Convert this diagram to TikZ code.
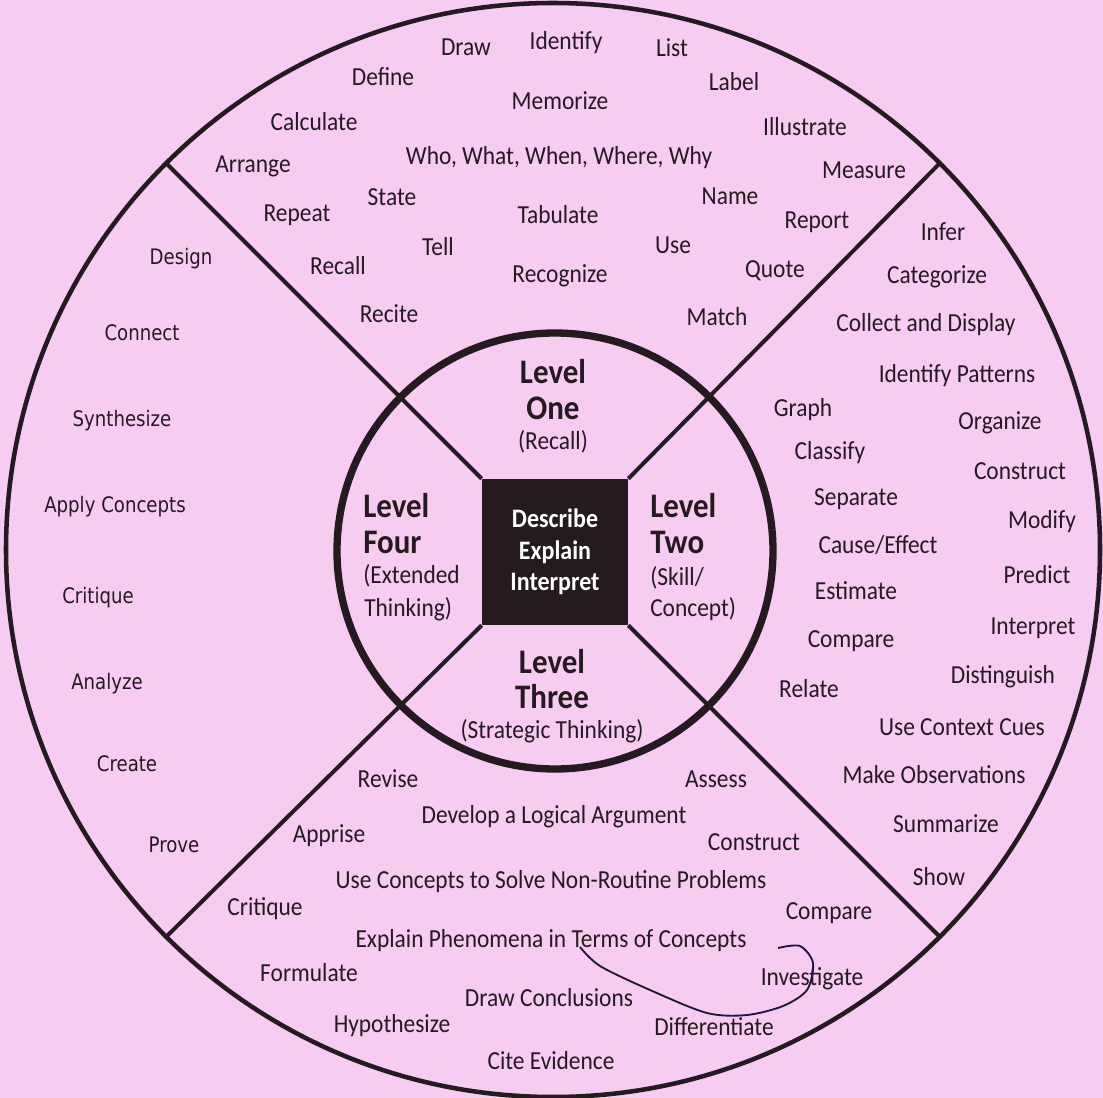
\documentclass[tikz,border=0pt]{standalone}
\usepackage{fontspec}
\setmainfont{Carlito}[FakeStretch=0.9]
\newfontfamily\farfont{DejaVu Sans}[FakeStretch=0.85]
\usetikzlibrary{math}
\definecolor{PaperPink}{RGB}{246,204,240}
\definecolor{InkDark}{RGB}{36,26,32}
\tikzset{%
  word/.style={inner sep=0pt, text=InkDark, font=\fontsize{19.5}{22}\selectfont},
  farword/.style={inner sep=0pt, text=InkDark, font=\farfont\fontsize{16}{19}\selectfont},
  lvl/.style={inner sep=0pt, text=InkDark, font=\fontsize{25.8}{28}\selectfont\bfseries},
  hubbox/.style={fill=InkDark, text=white, inner sep=0pt, minimum size=109.5pt,
    align=center, font=\fontsize{20}{23.6}\selectfont\bfseries},
  spoke/.style={draw=InkDark, line width=3pt},
  rim/.style={draw=InkDark, line width=3.4pt},
  core/.style={draw=InkDark, line width=5.5pt},
  pen/.style={draw=InkDark!85!blue, line width=1.4pt}
}

\begin{document}
\begin{tikzpicture}[x=0.75pt,y=-0.75pt]
    \tikzmath{
      \cx=553; \cy=550; % outer ring centre
      \rimR=547;
      \coreR=218; % inner ring
      \d=0.7071*\rimR;
    }
    \useasboundingbox (0,0) rectangle (1103,1098);
    \fill[PaperPink] (0,0) rectangle (1103,1098);
    % hub and spokes
    \node[hubbox] (hub) at (555,552) {Describe\\Explain\\Interpret};
    \coordinate (rimNW) at (\cx-\d,\cy-\d);
    \coordinate (rimNE) at (\cx+\d,\cy-\d);
    \coordinate (rimSE) at (\cx+\d,\cy+\d);
    \coordinate (rimSW) at (\cx-\d,\cy+\d);
    \draw[spoke] (hub.north west) -- (rimNW);
    \draw[spoke] (hub.north east) -- (rimNE);
    \draw[spoke] (hub.south east) -- (rimSE);
    \draw[spoke] (hub.south west) -- (rimSW);
    \draw[rim] (\cx,\cy) circle (\rimR);
    \draw[core] (555,551) circle (\coreR);
    % level titles
    \node[lvl] (one-a) at (553,372) {Level};
    \node[lvl] (one-b) at (553,408) {One};
    \node[word] (one-c) at (553,442) {(Recall)};
    \node[lvl,anchor=west] (two-a) at (650,506) {Level};
    \node[lvl,anchor=west] (two-b) at (650,542) {Two};
    \node[word,anchor=west] (two-c) at (650,578) {(Skill/};
    \node[word,anchor=west] (two-d) at (650,609) {Concept)};
    \node[lvl] (three-a) at (552,662) {Level};
    \node[lvl] (three-b) at (552,697) {Three};
    \node[word] (three-c) at (552,731) {(Strategic Thinking)};
    \node[lvl,anchor=west] (four-a) at (363,506) {Level};
    \node[lvl,anchor=west] (four-b) at (363,542) {Four};
    \node[word,anchor=west] (four-c) at (363,576) {(Extended};
    \node[word,anchor=west] (four-d) at (364,609) {Thinking)};
    % Level One words
    \foreach \x/\y/\txt [count=\i] in {466/47/Draw, 566/43/Identify, 672/48/List,
        383/77/Define, 734/82/Label, 560/101/Memorize, 314/122/Calculate,
        805/127/Illustrate, 253/166/Arrange, 559/158/{Who, What, When, Where, Why},
        864/170/Measure, 392/197/State, 730/196/Name, 297/215/Repeat,
        558/215/Tabulate, 817/222/Report, 438/247/Tell, 673/245/Use,
        338/266/Recall, 560/276/Recognize, 775/271/Quote, 389/314/Recite,
        717/317/Match} {
      \node[word] (w1-\i) at (\x,\y) {\txt};
    }
    % Level Two words
    \foreach \x/\y/\txt [count=\i] in {943/232/Infer, 937/277/Categorize,
        926/325/Collect and Display, 957/376/Identify Patterns, 803/410/Graph,
        1000/423/Organize, 830/453/Classify, 1020/471/Construct,
        856/499/Separate, 1042/522/Modify, 878/545/{Cause/Effect},
        1037/575/Predict, 856/591/Estimate, 1033/628/Interpret,
        851/641/Compare, 1003/677/Distinguish, 809/689/Relate,
        962/727/Use Context Cues, 934/775/Make Observations,
        946/824/Summarize, 939/877/Show} {
      \node[word] (w2-\i) at (\x,\y) {\txt};
    }
    % Level Three words
    \foreach \x/\y/\txt [count=\i] in {388/779/Revise, 716/779/Assess,
        554/817/Develop a Logical Argument, 329/836/Apprise, 754/842/Construct,
        551/882/Use Concepts to Solve Non-Routine Problems, 265/909/Critique,
        829/913/Compare, 551/941/Explain Phenomena in Terms of Concepts,
        309/973/Formulate, 812/979/Investigate, 549/998/Draw Conclusions,
        392/1026/Hypothesize, 714/1027/Differentiate, 551/1061/Cite Evidence} {
      \node[word] (w3-\i) at (\x,\y) {\txt};
    }
    % Level Four words
    \foreach \x/\y/\txt [count=\i] in {181/259/Design, 142/333/Connect,
        122/421/Synthesize, 115/507/Apply Concepts, 98/598/Critique,
        107/684/Analyze, 127/764/Create, 174/845/Prove} {
      \node[farword] (w4-\i) at (\x,\y) {\txt};
    }
    % pen mark
    \draw[pen] plot[smooth] coordinates {(580,947) (600,966) (650,990)
      (707,1013) (747,1015) (783,1006) (807,990) (813,963) (800,946) (778,948)};
\end{tikzpicture}
\end{document}
